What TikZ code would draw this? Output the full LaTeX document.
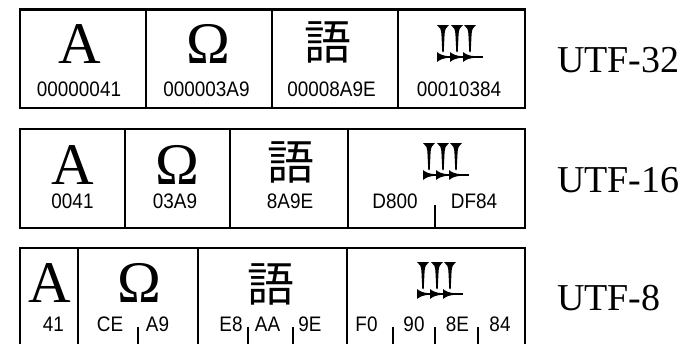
\documentclass[tikz,border=0pt]{standalone}
\usepackage{fontspec}
\setmainfont{Liberation Serif}
\newfontfamily\hexfont[FakeStretch=0.9]{Liberation Sans}
\newfontfamily\cjkfont{Noto Sans CJK JP}
\tikzset{
  frame/.style={line width=2.8pt, line join=miter},
  sep/.style={line width=2.8pt},
  tickmark/.style={line width=2.6pt},
  big/.style={anchor=base, inner sep=0pt, font=\fontsize{59}{59}\selectfont},
  kanji/.style={anchor=center, inner sep=0pt, font=\cjkfont\fontsize{47}{47}\selectfont},
  hex/.style={anchor=base, inner sep=0pt, font=\hexfont\fontsize{21}{21}\selectfont},
  enc/.style={anchor=base west, inner sep=0pt, font=\fontsize{38}{38}\selectfont},
  ugar/.pic={
    \foreach \cx in {6,20,33} {
      \fill (\cx-6,0) -- (\cx+6,0) .. controls (\cx+3,2) and (\cx+1.8,5) .. (\cx+1.6,9)
        -- (\cx+0.7,27) -- (\cx-0.7,27) -- (\cx-1.6,9)
        .. controls (\cx-1.8,5) and (\cx-3,2) .. (\cx-6,0) -- cycle;
    }
    \draw[line width=2pt] (0,32) -- (46,32);
    \foreach \hxx in {0,13,26} {
      \fill (\hxx,27) -- (\hxx,37) .. controls (\hxx+3,34.5) and (\hxx+6,33.2) .. (\hxx+13,32.6)
        -- (\hxx+13,31.4) .. controls (\hxx+6,30.8) and (\hxx+3,29.5) .. (\hxx,27) -- cycle;
    }
  }
}
\begin{document}
\begin{tikzpicture}[x=1pt,y=-1pt]
\useasboundingbox (0,0) rectangle (682,343);
\clip (0,0) rectangle (682,343);
% ---------- UTF-32 ----------
\draw[frame] (20,9.5) rectangle (525,108);
\draw[sep] (146,9.5) -- (146,108);
\draw[sep] (272,9.5) -- (272,108);
\draw[sep] (398,9.5) -- (398,108);
\node[big] (a1) at (80,63) {A};
\node[big] (o1) at (208.5,63) {Ω};
\node[kanji] (k1) at (328,42.5) {語};
\pic (u1) at (437,25) {ugar};
\node[hex] (a1h) at (79,96) {00000041};
\node[hex] (o1h) at (206.5,96) {000003A9};
\node[hex] (k1h) at (331.5,96) {00008A9E};
\node[hex] (u1h) at (459,96) {00010384};
\node[enc] (l1) at (557,72) {UTF-32};
% ---------- UTF-16 ----------
\draw[frame] (20,129) rectangle (525,228);
\draw[sep] (125,129) -- (125,228);
\draw[sep] (230,129) -- (230,228);
\draw[sep] (348,129) -- (348,228);
\node[big] (a2) at (73,184) {A};
\node[big] (o2) at (177.5,184) {Ω};
\node[kanji] (k2) at (290.5,162.5) {語};
\pic (u2) at (423,143) {ugar};
\node[hex] (a2h) at (72.5,208) {0041};
\node[hex] (o2h) at (175,208) {03A9};
\node[hex] (k2h) at (290,208) {8A9E};
\node[hex] (u2h) at (395,208) {D800};
\node[hex] (u2i) at (474,208) {DF84};
\draw[tickmark] (435,205) -- (435,228);
\node[enc] (l2) at (557,192) {UTF-16};
% ---------- UTF-8 ----------
\draw[frame] (20,248) rectangle (525,347);
\draw[sep] (78,248) -- (78,347);
\draw[sep] (198,248) -- (198,347);
\draw[sep] (347,248) -- (347,347);
\node[big] (a3) at (50,302) {A};
\node[big] (o3) at (139,302) {Ω};
\node[kanji] (k3) at (271,284) {語};
\pic (u3) at (417,262) {ugar};
\node[hex] (a3h) at (53.5,331) {41};
\node[hex] (o3h) at (110,331) {CE};
\node[hex] (o3i) at (157.5,331) {A9};
\node[hex] (k3h) at (231,331) {E8};
\node[hex] (k3i) at (267.5,331) {AA};
\node[hex] (k3j) at (310,331) {9E};
\node[hex] (u3h) at (366.5,331) {F0};
\node[hex] (u3i) at (414,331) {90};
\node[hex] (u3j) at (457.5,331) {8E};
\node[hex] (u3k) at (500,331) {84};
\foreach \tx in {138,248,293,393,435,478} {
  \draw[tickmark] (\tx,327) -- (\tx,347);
}
\node[enc] (l3) at (557,310) {UTF-8};
\end{tikzpicture}
\end{document}
